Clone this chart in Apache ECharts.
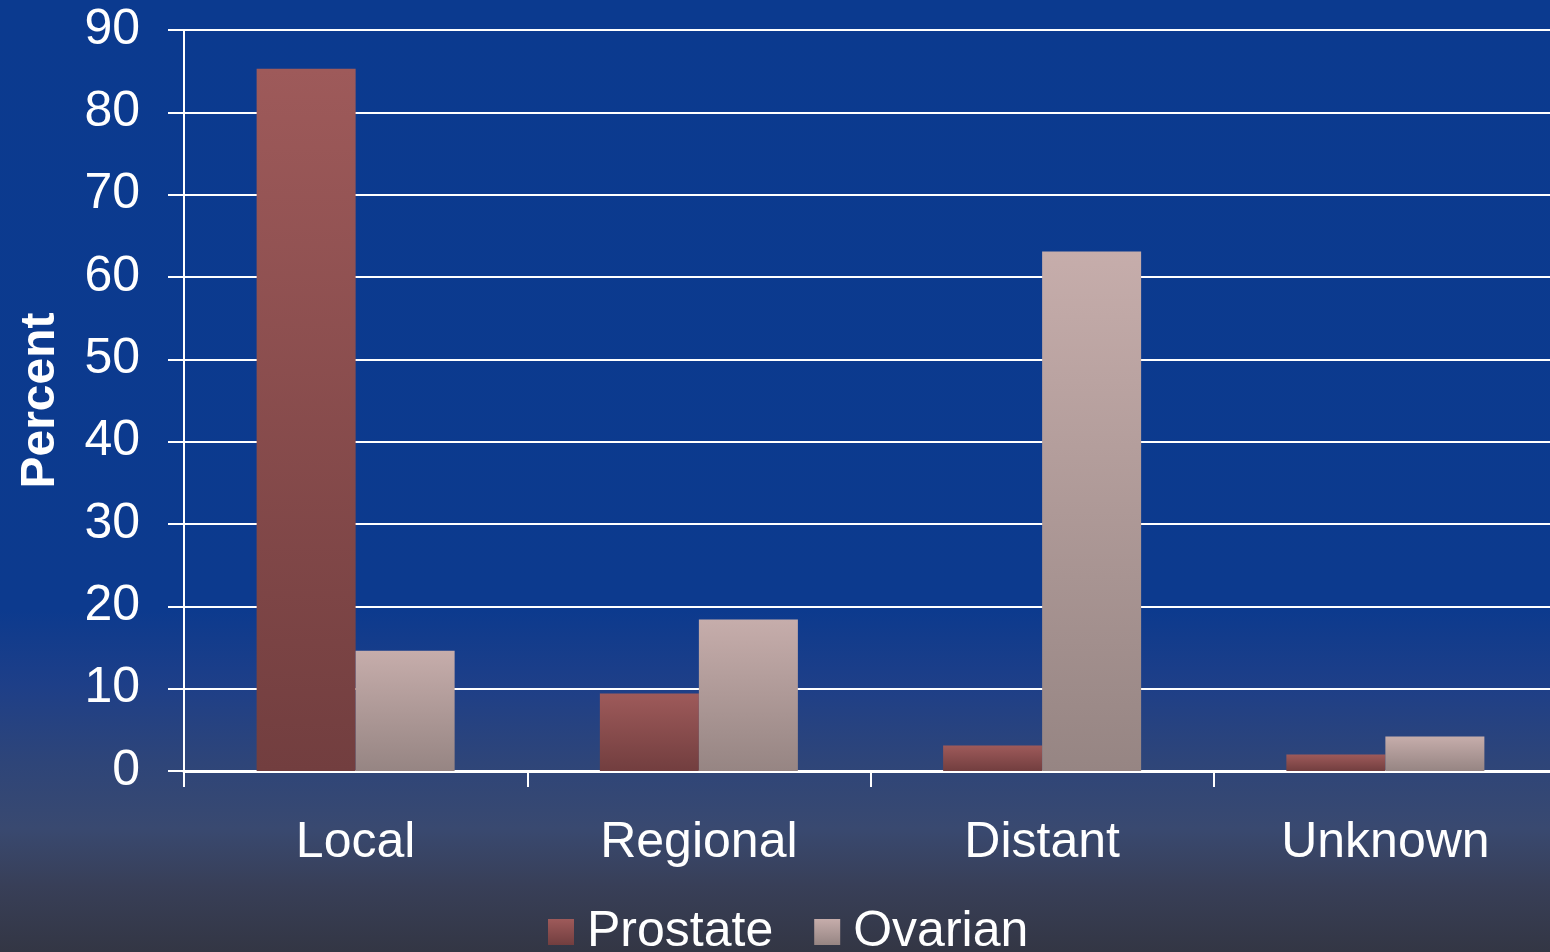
<!DOCTYPE html>
<html>
<head>
<meta charset="utf-8">
<title>Stage at diagnosis</title>
<script src="https://cdn.jsdelivr.net/npm/echarts@6/dist/echarts.min.js"></script>
<style>
  html, body { margin: 0; padding: 0; background: #0b3a8f; }
  #chart { width: 1550px; height: 952px; }
</style>
</head>
<body>
<div id="chart"></div>
<script>
// Stage distribution at diagnosis, percent of cases
const categories = ['Local', 'Regional', 'Distant', 'Unknown'];
const prostateValues = [85.3, 9.4, 3.1, 2.0];
const ovarianValues = [14.6, 18.4, 63.1, 4.2];
const yTicks = { min: 0, max: 90, interval: 10 };

const FONT = '"Liberation Sans", Arial, sans-serif';

function vGrad(top, bottom) {
  return new echarts.graphic.LinearGradient(0, 0, 0, 1, [
    { offset: 0, color: top },
    { offset: 1, color: bottom }
  ]);
}

const chart = echarts.init(document.getElementById('chart'), null, { renderer: 'canvas' });

chart.setOption({
  animation: false,
  backgroundColor: new echarts.graphic.LinearGradient(0, 0, 0, 1, [
    { offset: 0, color: '#0b3a8f' },
    { offset: 0.64, color: '#0c3a8e' },
    { offset: 0.72, color: '#1e3f88' },
    { offset: 0.80, color: '#2e4579' },
    { offset: 0.87, color: '#394970' },
    { offset: 0.93, color: '#383f58' },
    { offset: 1, color: '#333644' }
  ]),
  textStyle: { fontFamily: FONT },
  // the plot runs a little past the right edge of the canvas
  grid: { left: 184, right: -7, top: 30, bottom: 181, outerBoundsMode: 'none', containLabel: false },
  legend: {
    left: 543,
    top: 902,
    itemWidth: 26,
    itemHeight: 26,
    itemGap: 41,
    icon: 'rect',
    textStyle: { color: '#ffffff', fontSize: 50, fontFamily: FONT, padding: [0, 0, 0, 8] },
    data: ['Prostate', 'Ovarian']
  },
  xAxis: {
    type: 'category',
    data: categories,
    axisLine: { show: true, lineStyle: { color: '#ffffff', width: 3 } },
    axisTick: { show: true, length: 16, lineStyle: { color: '#ffffff', width: 2 } },
    axisLabel: { color: '#ffffff', fontSize: 50, fontFamily: FONT, margin: 47 },
    splitLine: { show: false }
  },
  yAxis: {
    type: 'value',
    min: yTicks.min,
    max: yTicks.max,
    interval: yTicks.interval,
    name: 'Percent',
    nameLocation: 'middle',
    nameGap: 119,
    nameTextStyle: { color: '#ffffff', fontSize: 48, fontWeight: 'bold', fontFamily: FONT },
    axisLine: { show: true, lineStyle: { color: '#ffffff', width: 2 } },
    axisTick: { show: true, length: 16, lineStyle: { color: '#ffffff', width: 2 } },
    axisLabel: { color: '#ffffff', fontSize: 50, fontFamily: FONT, margin: 44 },
    splitLine: { show: true, lineStyle: { color: '#ffffff', width: 2 } }
  },
  series: [
    {
      name: 'Prostate',
      type: 'bar',
      data: prostateValues,
      barWidth: 99,
      barGap: '0%',
      itemStyle: { color: vGrad('#9e5a5a', '#723e3f') }
    },
    {
      name: 'Ovarian',
      type: 'bar',
      data: ovarianValues,
      barWidth: 99,
      barGap: '0%',
      itemStyle: { color: vGrad('#c6adab', '#968583') }
    }
  ]
});
</script>
</body>
</html>
